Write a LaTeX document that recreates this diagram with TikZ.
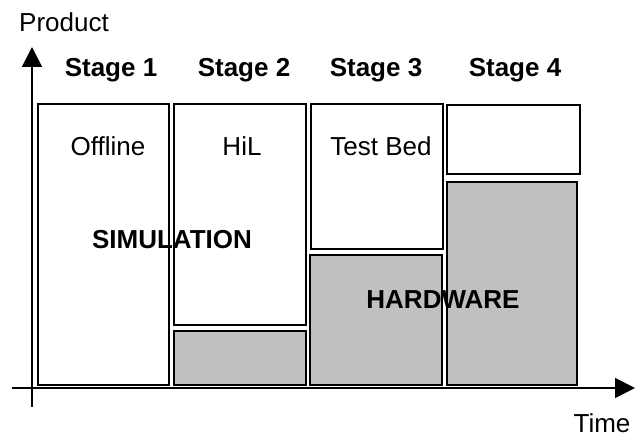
\documentclass[tikz,border=0pt]{standalone}
\usepackage{fontspec}
\setmainfont{Liberation Sans}
\usetikzlibrary{arrows.meta,positioning}
\definecolor{hwgray}{HTML}{C0C0C0}

\begin{document}
\begin{tikzpicture}[x=0.5pt,y=-0.5pt,
    stagebox/.style={draw, line width=0.8pt, fill=white, anchor=north west, inner sep=0pt},
    hwbox/.style={stagebox, fill=hwgray},
    lbl/.style={anchor=base, inner sep=0pt, font=\fontsize{13}{15}\selectfont},
    boldlbl/.style={lbl, font=\fontsize{13}{15}\selectfont\bfseries},
    axis/.style={line width=0.8pt, -{Triangle[length=10pt, width=10pt]}}]
    \useasboundingbox (0,0) rectangle (639,437);

    % Stage boxes
    \node[stagebox, minimum width=65.5pt, minimum height=140.5pt] (offline) at (37,103) {};
    \node[stagebox, minimum width=66pt, minimum height=110.5pt] (hil) at (173,103) {};
    \node[hwbox, minimum width=66pt, minimum height=27pt] (hilhw) at (173,330) {};
    \node[stagebox, minimum width=66pt, minimum height=72.5pt] (testbed) at (310,103) {};
    \node[hwbox, minimum width=66pt, minimum height=65pt] (testbedhw) at (309,254) {};
    \node[stagebox, minimum width=66.5pt, minimum height=34.5pt] (final) at (446,104) {};
    \node[hwbox, minimum width=65pt, minimum height=101.5pt] (finalhw) at (446,181) {};

    % Axes
    \coordinate (ybot) at (32,407);
    \coordinate (ytop) at (32,47);
    \coordinate (xleft) at (12,388);
    \coordinate (xright) at (635,388);
    \draw[axis] (ybot) -- (ytop);
    \draw[axis] (xleft) -- (xright);

    % Axis labels
    \node[lbl] (product) at (64,32) {Product};
    \node[lbl] (time) at (602,433) {Time};

    % Stage headings
    \foreach \x/\n in {111/1, 244/2, 376/3, 515/4} {
        \node[boldlbl] (stage\n) at (\x,77) {Stage \n};
    }

    % Box texts
    \node[lbl] (offlinetxt) at (108,156) {Offline};
    \node[lbl] (hiltxt) at (242,156) {HiL};
    \node[lbl] (testbedtxt) at (381,156) {Test Bed};
    \node[boldlbl] (simtxt) at (172,249) {SIMULATION};
    \node[boldlbl] (hwtxt) at (443,309) {HARDWARE};
\end{tikzpicture}
\end{document}
